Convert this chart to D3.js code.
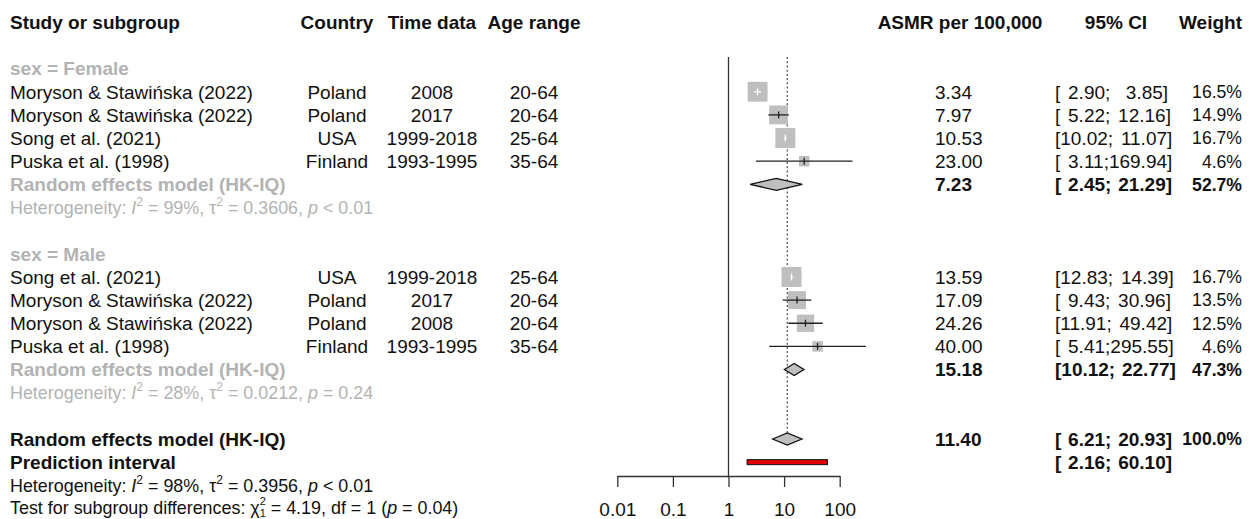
<!DOCTYPE html>
<html>
<head>
<meta charset="utf-8">
<script src="https://cdn.jsdelivr.net/npm/d3@7"></script>
<style>
  html, body { margin: 0; padding: 0; background: #fff; }
  svg { display: block; font-family: "Liberation Sans", Arial, Helvetica, sans-serif; }
  text { white-space: pre; }
</style>
</head>
<body>
<svg id="chart" width="1253" height="519"></svg>
<script>
// ---------------- DATA ----------------
const subgroupNames = ["Female", "Male"];
const studyLabels = ["Moryson & Stawińska (2022)", "Moryson & Stawińska (2022)", "Song et al. (2021)", "Puska et al. (1998)",
                     "Song et al. (2021)", "Moryson & Stawińska (2022)", "Moryson & Stawińska (2022)", "Puska et al. (1998)"];
const studyGroup = [0, 0, 0, 0, 1, 1, 1, 1];
const countries = ["Poland", "Poland", "USA", "Finland", "USA", "Poland", "Poland", "Finland"];
const timeData = ["2008", "2017", "1999-2018", "1993-1995", "1999-2018", "2017", "2008", "1993-1995"];
const ageRanges = ["20-64", "20-64", "25-64", "35-64", "25-64", "20-64", "20-64", "35-64"];
const asmr = [3.34, 7.97, 10.53, 23.00, 13.59, 17.09, 24.26, 40.00];
const ciLower = [2.90, 5.22, 10.02, 3.11, 12.83, 9.43, 11.91, 5.41];
const ciUpper = [3.85, 12.16, 11.07, 169.94, 14.39, 30.96, 49.42, 295.55];
const weights = [16.5, 14.9, 16.7, 4.6, 16.7, 13.5, 12.5, 4.6];

const pooledEst = [7.23, 15.18];
const pooledLower = [2.45, 10.12];
const pooledUpper = [21.29, 22.77];
const pooledWeight = [52.7, 47.3];

const overallEst = 11.40;
const overallLower = 6.21;
const overallUpper = 20.93;
const overallWeight = 100.0;
const predLower = 2.16;
const predUpper = 60.10;

const hetI2 = ["99%", "28%", "98%"];
const hetTau2 = ["0.3606", "0.0212", "0.3956"];
const hetP = ["< 0.01", "= 0.24", "< 0.01"];
const testChi2 = "4.19";
const testDf = "1";
const testP = "0.04";

const axisTicks = [0.01, 0.1, 1, 10, 100];
const headers = ["Study or subgroup", "Country", "Time data", "Age range", "ASMR per 100,000", "95% CI", "Weight"];

// ---------------- LAYOUT ----------------
const svg = d3.select("#chart");
const FS = 19, FSH = 17.9, FSW = 17.6;
const BLACK = "#111", GRAY = "#b3b3b3", SQ = "#bfbfbf";
const rowY = i => 68.6 + 23.15 * i;
const x = d3.scaleLog().domain([0.01, 100]).range([617.3, 839.7]);
const sqSize = d3.scaleSqrt().domain([0, 16.7]).range([0, 20]);
const axisY = 476;
const col = { study: 10, country: 337, time: 432, age: 534, asmr: 935, ci: 1055, ciHead: 1116, asmrHead: 960, weight: 1242 };

const fmt2 = d => d.toFixed(2);
const ciText = (lo, hi) => "[" + fmt2(lo).padStart(5) + ";" + fmt2(hi).padStart(6) + "]";
const wText = w => w.toFixed(1) + "%";

function txt(xp, row, s, opts = {}) {
  const t = svg.append("text")
    .attr("x", xp).attr("y", rowY(row)).attr("dy", "0.36em")
    .attr("text-anchor", opts.anchor || "start")
    .attr("font-size", opts.size || FS)
    .attr("font-weight", opts.bold ? "bold" : "normal")
    .attr("fill", opts.color || BLACK)
    .text(s);
  if (opts.ws) t.attr("word-spacing", opts.ws);
  return t;
}

// Headers
txt(col.study, -2, headers[0], { bold: true });
txt(col.country, -2, headers[1], { bold: true, anchor: "middle" });
txt(col.time, -2, headers[2], { bold: true, anchor: "middle" });
txt(col.age, -2, headers[3], { bold: true, anchor: "middle" });
txt(col.asmrHead, -2, headers[4], { bold: true, anchor: "middle" });
txt(col.ciHead, -2, headers[5], { bold: true, anchor: "middle" });
txt(col.weight, -2, headers[6], { bold: true, anchor: "end" });

// rows of studies
const studyRow = studyLabels.map((_, k) => {
  const g = studyGroup[k];
  const idx = studyGroup.slice(0, k).filter(v => v === g).length;
  return g * 8 + 1 + idx;
});

// reference lines
const yTop = rowY(0) - 11.5;
svg.append("line")
  .attr("x1", x(1)).attr("x2", x(1)).attr("y1", yTop).attr("y2", axisY)
  .attr("stroke", "#333").attr("stroke-width", 1.3);
svg.append("line")
  .attr("x1", x(overallEst)).attr("x2", x(overallEst)).attr("y1", yTop).attr("y2", rowY(16) - 6)
  .attr("stroke", "#555").attr("stroke-width", 1.3).attr("stroke-dasharray", "2,2.2");

// subgroup labels, pooled rows, heterogeneity
function hetLine(row, i, color, prefix) {
  const t = svg.append("text")
    .attr("x", col.study).attr("y", rowY(row)).attr("dy", "0.36em")
    .attr("font-size", FSH).attr("fill", color);
  t.append("tspan").text(prefix);
  t.append("tspan").attr("font-style", "italic").text("I");
  t.append("tspan").attr("font-size", 12).attr("dy", -8).text("2");
  t.append("tspan").attr("dy", 8).text(" = " + hetI2[i] + ", τ");
  t.append("tspan").attr("font-size", 12).attr("dy", -8).text("2");
  t.append("tspan").attr("dy", 8).text(" = " + hetTau2[i] + ", ");
  t.append("tspan").attr("font-style", "italic").text("p");
  t.append("tspan").text(" " + hetP[i]);
}

function diamond(est, lo, hi, row) {
  const y = rowY(row), h = 6;
  svg.append("path")
    .attr("d", `M${x(lo)},${y}L${x(est)},${y - h}L${x(hi)},${y}L${x(est)},${y + h}Z`)
    .attr("fill", SQ).attr("stroke", "#111").attr("stroke-width", 1.3);
}

subgroupNames.forEach((name, g) => {
  const base = g * 8;
  txt(col.study, base, "sex = " + name, { bold: true, color: GRAY });
  txt(col.study, base + 5, "Random effects model (HK-IQ)", { bold: true, color: GRAY });
  txt(col.asmr, base + 5, fmt2(pooledEst[g]), { bold: true });
  txt(col.ci, base + 5, ciText(pooledLower[g], pooledUpper[g]), { bold: true, ws: 1.5 });
  txt(col.weight, base + 5, wText(pooledWeight[g]), { bold: true, anchor: "end", size: FSW });
  hetLine(base + 6, g, GRAY, "Heterogeneity: ");
  diamond(pooledEst[g], pooledLower[g], pooledUpper[g], base + 5);
});

// studies
studyLabels.forEach((lab, k) => {
  const r = studyRow[k];
  txt(col.study, r, lab);
  txt(col.country, r, countries[k], { anchor: "middle" });
  txt(col.time, r, timeData[k], { anchor: "middle" });
  txt(col.age, r, ageRanges[k], { anchor: "middle" });
  txt(col.asmr, r, fmt2(asmr[k]));
  txt(col.ci, r, ciText(ciLower[k], ciUpper[k]), { ws: 2.5 });
  txt(col.weight, r, wText(weights[k]), { anchor: "end", size: FSW });

  const y = rowY(r), s = sqSize(weights[k]), cx = x(asmr[k]);
  svg.append("rect")
    .attr("x", cx - s / 2).attr("y", y - s / 2).attr("width", s).attr("height", s)
    .attr("fill", SQ);
  const inside = x(ciLower[k]) >= cx - s / 2 && x(ciUpper[k]) <= cx + s / 2;
  const lc = inside ? "#fff" : "#222";
  svg.append("line")
    .attr("x1", x(ciLower[k])).attr("x2", x(ciUpper[k])).attr("y1", y).attr("y2", y)
    .attr("stroke", lc).attr("stroke-width", 1.3);
  svg.append("line")
    .attr("x1", cx).attr("x2", cx).attr("y1", y - 3.5).attr("y2", y + 3.5)
    .attr("stroke", lc).attr("stroke-width", 1.3);
});

// overall
txt(col.study, 16, "Random effects model (HK-IQ)", { bold: true });
txt(col.asmr, 16, fmt2(overallEst), { bold: true });
txt(col.ci, 16, ciText(overallLower, overallUpper), { bold: true, ws: 1.5 });
txt(col.weight, 16, wText(overallWeight), { bold: true, anchor: "end", size: FSW });
diamond(overallEst, overallLower, overallUpper, 16);

txt(col.study, 17, "Prediction interval", { bold: true });
txt(col.ci, 17, ciText(predLower, predUpper), { bold: true, ws: 1.5 });
svg.append("rect")
  .attr("x", x(predLower)).attr("y", rowY(17) - 2.5)
  .attr("width", x(predUpper) - x(predLower)).attr("height", 5)
  .attr("fill", "#e00000").attr("stroke", "#111").attr("stroke-width", 1);

hetLine(18, 2, BLACK, "Heterogeneity: ");

// test for subgroup differences
{
  const t = svg.append("text")
    .attr("x", col.study).attr("y", rowY(19) - 0.8).attr("dy", "0.36em")
    .attr("font-size", FSH).attr("fill", BLACK);
  t.append("tspan").text("Test for subgroup differences: χ");
  t.append("tspan").attr("font-size", 11).attr("dy", -9).text("2");
  t.append("tspan").attr("font-size", 11).attr("dx", -6.2).attr("dy", 12).text(testDf);
  t.append("tspan").attr("dy", -3).text(" = " + testChi2 + ", df = " + testDf + " (");
  t.append("tspan").attr("font-style", "italic").text("p");
  t.append("tspan").text(" = " + testP + ")");
}

// axis
const axis = d3.axisBottom(x)
  .tickValues(axisTicks)
  .tickFormat(d => String(d))
  .tickSize(11).tickSizeOuter(0).tickPadding(16);
const ag = svg.append("g").attr("transform", `translate(0,${axisY})`).call(axis);
ag.select(".domain").attr("stroke", "#333").attr("stroke-width", 1.3);
ag.selectAll(".tick line").attr("stroke", "#333").attr("stroke-width", 1.3);
ag.selectAll(".tick text").attr("font-size", FS).attr("fill", BLACK)
  .attr("font-family", "Liberation Sans, Arial, sans-serif");
</script>
</body>
</html>
